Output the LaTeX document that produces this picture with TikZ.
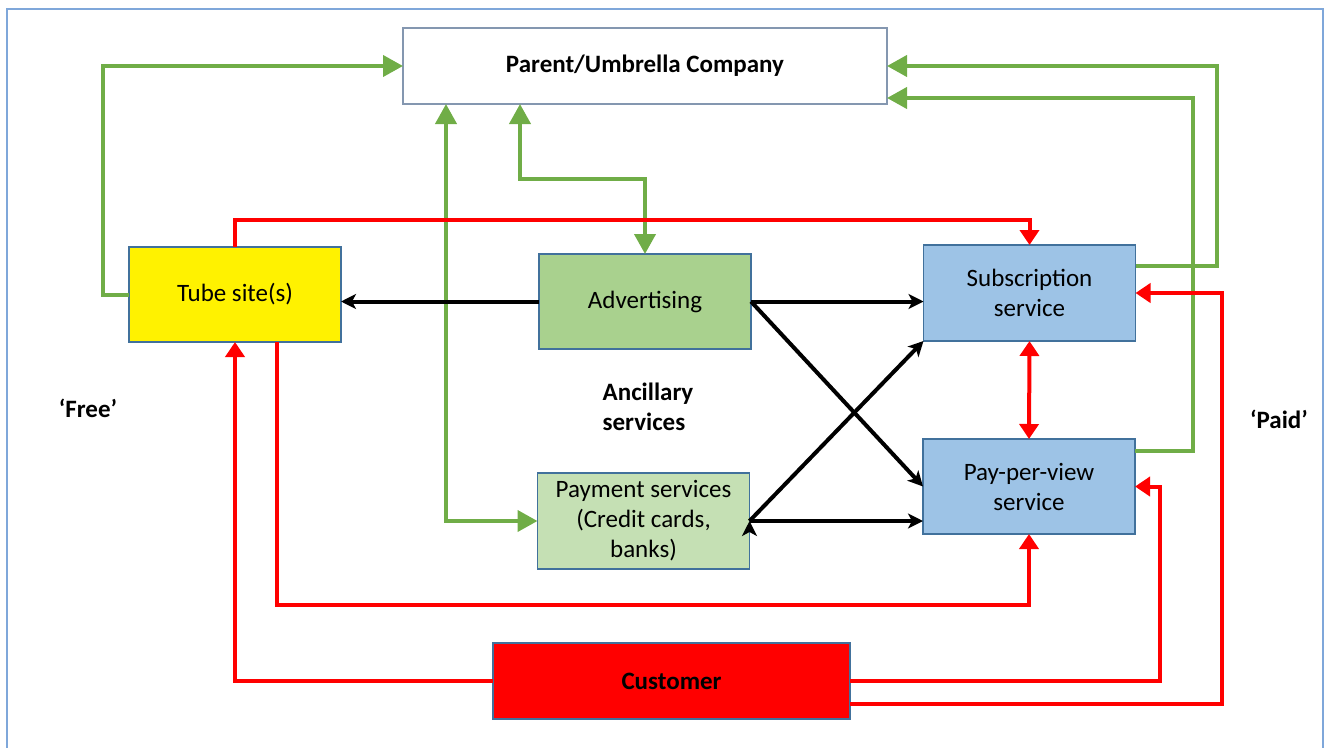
\documentclass[tikz,border=0pt]{standalone}
\usepackage{fontspec}
\setmainfont{Carlito}
\usepackage{tikz}
\usetikzlibrary{positioning,arrows.meta}
\definecolor{grline}{HTML}{70AD47}
\definecolor{boxline}{HTML}{41719C}
\definecolor{parentline}{HTML}{8497B0}
\definecolor{frameline}{HTML}{7FA7DA}
\definecolor{adfill}{HTML}{A9D18E}
\definecolor{payfill}{HTML}{C5E0B4}
\definecolor{svcfill}{HTML}{9DC3E6}

\begin{document}
\begin{tikzpicture}[x=1pt,y=-1pt,every node/.style={inner sep=0,outer sep=0,align=center,font=\fontsize{25}{30}\selectfont},
    box/.style={draw=boxline,line width=1.3pt,minimum width=212pt,minimum height=95pt},
    gr/.style={draw=grline,line width=4pt,>={Triangle[length=20pt,width=21pt]}},
    rd/.style={draw=red,line width=4pt,>={Triangle[length=15pt,width=19pt]}},
    bk/.style={draw=black,line width=4pt,>={Stealth[length=15pt,width=15pt,inset=4pt]}}]
	\useasboundingbox (0,0) rectangle (1327,747);
	\draw[frameline,line width=2.5pt] (7,9) rectangle (1323,760);
	% boxes
	\node (U) [box,draw=parentline,fill=white,minimum width=484pt,minimum height=76pt] at (645,66) {\bfseries Parent/Umbrella Company};
	\node (T) [box,fill=yellow] at (235,294.5) {Tube site(s)};
	\node (A) [box,fill=adfill] at (645,301.5) {Advertising};
	\node (B) [box,fill=payfill,minimum height=96pt] at (643.5,521) {Payment services\\(Credit cards,\\banks)};
	\node (S) [box,fill=svcfill,minimum height=96pt] at (1029.5,293) {Subscription\\service};
	\node (V) [box,fill=svcfill] at (1029,486.5) {Pay-per-view\\service};
	\node (C) [box,fill=red,minimum width=357pt,minimum height=76pt] at (671.5,681) {\bfseries Customer};
	\node (F) at (88,408) {\bfseries ‘Free’};
	\node (P) at (1279,419) {\bfseries ‘Paid’};
	\node (X) [align=left] at (648,407) {\bfseries Ancillary\\\bfseries services};
	% green
	\draw[gr,->] (T.west) -- ++(-26,0) |- (U.west);
	\draw[gr,<->] ([xshift=43pt]U.south west) |- (B.west);
	\draw[gr,<->] ([xshift=117pt]U.south west) -- ++(0,75) -| (A.north);
	\draw[gr,->] ([yshift=-21pt]S.north east) -- ++(81,0) |- (U.east);
	\draw[gr,->] ([yshift=-12pt]V.north east) -- ++(58,0) |- ([yshift=6pt]U.south east);
	% red
	\draw[rd,->] (T.north) -- ++(0,-27) -| (S.north);
	\draw[rd,<->] (S.south) -- (V.north);
	\draw[rd,->] ([xshift=42pt]T.south) -- ++(0,263) -| (V.south);
	\draw[rd,->] (C.west) -| (T.south);
	\draw[rd,->] (C.east) -- ++(310,0) |- (V.east);
	\draw[rd,->] ([yshift=15pt]C.south east) -- ++(372,0) |- (S.east);
	% black
	\path[bk,->]
		(A.west) edge (A.west -| T.east)
		(A.east) edge (A.east -| S.west)
		(A.east) edge (V.west)
		(B.east) edge (S.south west)
		(B.east) edge (B.east -| V.west);
\end{tikzpicture}
\end{document}
